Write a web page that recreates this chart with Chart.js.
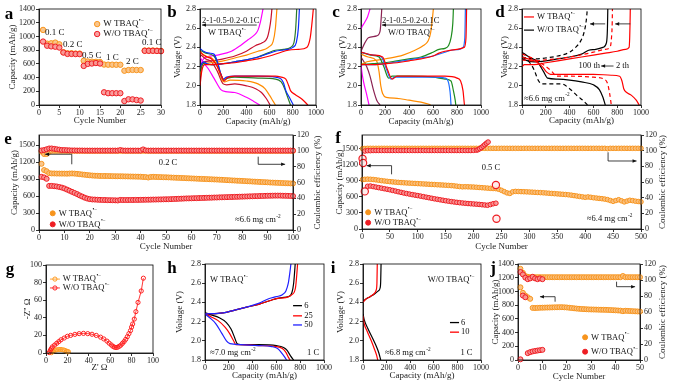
<!DOCTYPE html>
<html><head><meta charset="utf-8">
<script src="https://cdn.jsdelivr.net/npm/chart.js@4.4.1/dist/chart.umd.min.js"></script>
<style>
html,body{margin:0;padding:0;background:#fff;}
#wrap{position:relative;width:675px;height:387px;overflow:hidden;background:#fff;}
#wrap canvas{position:absolute;left:0;top:0;}
</style></head><body><div id="wrap"></div>
<script>
// ================= DATA =================
// (a) rate performance
const aCycles = [1,2,3,4,5,6,7,8,9,10,11,12,13,14,15,16,17,18,19,20,21,22,23,24,25,26,27,28,29,30];
const aCapW  = [1095,895,900,910,885,770,755,755,750,750,645,635,632,630,628,590,588,588,587,587,500,510,512,510,510,795,795,795,793,790];
const aCapWO = [925,865,855,850,838,765,745,745,743,742,570,600,605,612,605,185,172,172,172,172,58,83,82,73,65,790,790,790,788,785];
const aTickX = [0,5,10,15,20,25,30];
const aTickY = [0,200,400,600,800,1000,1200,1400];

// shared voltage-profile ticks
const vTicks = [1.8,2.0,2.2,2.4,2.6,2.8];
const capTicks = [0,200,400,600,800,1000];

// (b) W TBAQ, different rates  [capacity, voltage]
const bMagDis = [[0,2.3],[30,2.24],[70,2.18],[120,2.08],[180,1.96],[220,1.94],[300,1.93],[400,1.88],[460,1.84],[515,1.8]];
const bMagChg = [[0,2.12],[20,2.26],[60,2.3],[150,2.32],[271,2.36],[350,2.42],[414,2.48],[470,2.53],[500,2.58],[520,2.66],[535,2.75],[543,2.8]];
const bDrdDis = [[0,2.33],[50,2.28],[100,2.25],[150,2.15],[200,2.02],[230,2.01],[300,2.02],[400,2.0],[480,1.97],[530,1.93],[570,1.87],[605,1.8]];
const bDrdChg = [[0,2.05],[20,2.24],[100,2.26],[200,2.28],[300,2.31],[400,2.36],[480,2.42],[540,2.45],[580,2.5],[600,2.6],[612,2.7],[620,2.8]];
const bOrgDis = [[0,2.35],[50,2.31],[110,2.28],[150,2.2],[190,2.06],[210,2.04],[260,2.06],[400,2.05],[500,2.02],[560,1.97],[600,1.9],[630,1.84],[650,1.8]];
const bOrgChg = [[0,2.1],[20,2.23],[100,2.24],[200,2.26],[300,2.29],[400,2.32],[500,2.36],[560,2.38],[600,2.41],[630,2.46],[650,2.6],[663,2.8]];
const bGrnDis = [[0,2.37],[50,2.34],[120,2.31],[150,2.24],[180,2.12],[205,2.06],[240,2.08],[300,2.09],[500,2.08],[650,2.07],[700,2.04],[730,1.97],[750,1.9],[780,1.8]];
const bGrnChg = [[0,2.15],[30,2.23],[100,2.22],[200,2.23],[300,2.25],[400,2.27],[500,2.3],[600,2.35],[650,2.37],[720,2.38],[780,2.4],[810,2.45],[825,2.6],[834,2.8]];
const bBluDis = [[0,2.39],[30,2.36],[80,2.34],[120,2.33],[150,2.25],[180,2.12],[200,2.07],[230,2.09],[300,2.1],[500,2.1],[650,2.09],[700,2.07],[720,2.03],[740,1.95],[770,1.88],[805,1.8]];
const bBluChg = [[0,2.2],[30,2.25],[60,2.23],[100,2.22],[200,2.23],[300,2.25],[400,2.27],[500,2.3],[600,2.34],[650,2.36],[700,2.37],[760,2.38],[800,2.4],[830,2.45],[848,2.6],[857,2.8]];
const bRedDis = [[0,2.36],[20,2.33],[60,2.3],[100,2.28],[140,2.22],[180,2.12],[210,2.05],[230,2.08],[300,2.1],[500,2.1],[650,2.1],[700,2.09],[740,2.07],[765,2.0],[780,1.95],[820,1.91],[880,1.86],[930,1.8]];
const bRedChg = [[0,2.0],[15,2.15],[40,2.22],[100,2.22],[200,2.23],[300,2.24],[400,2.26],[500,2.28],[600,2.31],[700,2.35],[760,2.37],[850,2.38],[920,2.4],[950,2.5],[965,2.65],[977,2.8]];

// (c) W/O TBAQ, different rates
const cMagDis = [[0,2.22],[10,2.12],[25,2.02],[45,1.92],[67,1.8]];
const cMagChg = [[0,2.59],[10,2.62],[30,2.66],[55,2.72],[75,2.8]];
const cMarDis = [[0,2.3],[47,2.2],[75,2.1],[103,1.96],[131,1.85],[159,1.8]];
const cMarChg = [[0,2.36],[33,2.45],[61,2.5],[131,2.52],[159,2.57],[168,2.7],[173,2.8]];
const cOrgDis = [[0,2.33],[60,2.3],[130,2.26],[150,2.15],[165,2.0],[180,1.92],[210,1.88],[300,1.87],[400,1.85],[500,1.83],[560,1.81],[580,1.8]];
const cOrgChg = [[0,2.22],[50,2.25],[150,2.27],[250,2.29],[350,2.32],[450,2.37],[520,2.42],[560,2.47],[580,2.55],[595,2.7],[603,2.8]];
const cGrnDis = [[0,2.35],[80,2.32],[150,2.3],[190,2.2],[230,2.08],[260,2.1],[400,2.1],[600,2.09],[700,2.07],[750,2.05],[770,1.95],[785,1.85],[790,1.8]];
const cGrnChg = [[0,2.22],[100,2.23],[200,2.24],[300,2.26],[400,2.28],[500,2.3],[600,2.35],[650,2.38],[700,2.39],[730,2.42],[750,2.5],[765,2.65],[770,2.8]];
const cBluDis = [[0,2.35],[100,2.32],[170,2.3],[210,2.18],[250,2.07],[280,2.09],[400,2.09],[600,2.09],[700,2.08],[730,2.03],[745,1.9],[750,1.8]];
const cBluChg = [[0,2.22],[100,2.22],[200,2.23],[300,2.25],[400,2.27],[500,2.29],[600,2.31],[700,2.35],[750,2.37],[820,2.38],[850,2.4],[865,2.5],[870,2.8]];
const cRedDis = [[0,2.35],[100,2.32],[180,2.3],[220,2.17],[260,2.07],[300,2.1],[500,2.1],[700,2.1],[800,2.08],[830,2.05],[850,1.95],[858,1.85],[862,1.8]];
const cRedChg = [[0,2.22],[100,2.22],[200,2.23],[300,2.24],[400,2.26],[500,2.28],[600,2.31],[650,2.34],[700,2.36],[800,2.38],[860,2.4],[875,2.5],[880,2.8]];

// (d) 2nd vs 100th cycle
const dRed2Dis = [[0,2.3],[50,2.28],[120,2.25],[170,2.2],[210,2.14],[240,2.12],[400,2.12],[600,2.12],[750,2.11],[820,2.1],[840,2.05],[855,1.97],[880,1.93],[920,1.9],[960,1.85],[985,1.8]];
const dRed2Chg = [[0,2.2],[20,2.22],[100,2.22],[200,2.24],[300,2.26],[400,2.28],[500,2.3],[600,2.32],[700,2.34],[800,2.36],[870,2.38],[900,2.4],[905,2.5],[908,2.65],[910,2.8]];
const dRed100Dis = [[0,2.33],[100,2.28],[180,2.22],[250,2.15],[290,2.1],[400,2.1],[600,2.09],[690,2.07],[720,2.02],[735,1.93],[745,1.85],[750,1.8]];
const dRed100Chg = [[0,2.27],[100,2.26],[200,2.27],[400,2.3],[600,2.35],[700,2.38],[740,2.4],[752,2.5],[758,2.65],[760,2.8]];
const dBlk2Dis = [[0,2.35],[60,2.3],[130,2.25],[180,2.15],[215,2.08],[300,2.07],[400,2.06],[500,2.04],[600,2.01],[650,1.96],[680,1.88],[700,1.8]];
const dBlk2Chg = [[0,2.28],[50,2.26],[100,2.25],[200,2.26],[300,2.28],[400,2.3],[500,2.33],[560,2.37],[620,2.38],[680,2.4],[710,2.45],[718,2.6],[721,2.8]];
const dBlk100Dis = [[0,2.3],[60,2.25],[100,2.17],[140,2.05],[170,2.02],[330,2.02],[400,1.97],[470,1.89],[520,1.84],[550,1.8]];
const dBlk100Chg = [[0,2.3],[100,2.28],[200,2.29],[300,2.31],[400,2.35],[450,2.4],[490,2.46],[520,2.55],[540,2.68],[549,2.8]];

// (e) 0.2 C cycling
const eCycles = [1,2,3,4,5,6,7,8,9,10,11,12,13,14,15,16,17,18,19,20,21,22,23,24,25,26,27,28,29,30,31,32,33,34,35,36,37,38,39,40,41,42,43,44,45,46,47,48,49,50,51,52,53,54,55,56,57,58,59,60,61,62,63,64,65,66,67,68,69,70,71,72,73,74,75,76,77,78,79,80,81,82,83,84,85,86,87,88,89,90,91,92,93,94,95,96,97,98,99,100];
const eCapW = [1170,1060,1040,1005,1000,1000,998,998,997,997,
  996,998,1000,997,993,988,982,977,972,967,
  963,960,958,956,955,955,954,953,952,951,
  950,950,949,948,947,946,945,944,943,942,
  938,936,928,938,940,938,936,935,933,932,
  930,928,926,924,922,920,918,916,914,912,
  910,908,906,904,902,900,898,896,894,892,
  890,888,885,882,880,877,875,872,870,868,
  865,862,860,857,855,852,850,847,845,843,
  840,838,836,834,832,830,828,826,824,822];
const eCapWO = [940,930,905,780,780,775,770,760,750,735,
  715,695,675,655,635,612,592,572,556,546,
  540,538,535,533,531,530,528,527,526,525,
  522,532,530,530,530,531,531,532,532,533,
  534,535,536,537,538,539,540,541,542,543,
  544,546,548,550,552,554,556,558,559,560,
  562,563,565,566,568,569,571,572,574,575,
  577,578,580,581,583,584,586,587,589,590,
  592,593,595,596,598,599,601,602,604,605,
  606,607,608,608,608,606,605,604,602,600];
const eCeW = [99,96,96,99,100,100,100,100,100,100,
  100,100,100,100,100,100,100,100,100,100,
  100,100,100,100,100,100,100,100,100,100,
  100,100,100,100,100,100,100,100,100,100,
  100,100,100,100,100,100,100,100,100,100,
  100,100,100,100,100,100,100,100,100,100,
  100,100,100,100,100,100,100,100,100,100,
  100,100,100,100,100,100,100,100,100,100,
  100,100,100,100,100,100,100,100,100,100,
  100,100,100,100,100,100,100,100,100,100];
const eCeWO = [100.5,101,102,103,103,102.5,102,101.5,101,101,
  100.8,100.6,100.5,100.5,100.4,100.4,100.4,100.3,100.3,100.3,
  100.3,100.3,100.3,100.3,100.3,100.3,100.3,100.3,100.3,100.3,
  100.3,101,100.4,100.3,100.3,100.3,100.3,100.3,100.3,100.3,
  101.8,100.5,100.3,100.3,100.3,100.3,100.3,100.3,100.3,100.3,
  100.3,100.3,100.3,100.3,100.3,100.3,100.3,100.3,100.3,100.3,
  100.3,100.3,100.3,100.3,100.3,100.3,100.3,100.3,100.3,100.3,
  100.3,100.3,100.3,100.3,100.3,100.3,100.3,100.3,100.3,100.3,
  100.3,100.3,100.3,100.3,100.3,100.3,100.3,100.3,100.3,100.3,
  100.3,100.3,100.3,100.3,100.3,100.3,100.3,100.3,100.3,100.3];
const eTickX = [0,10,20,30,40,50,60,70,80,90,100];
const capTicksL = [0,300,600,900,1200,1500];
const ceTicks = [0,20,40,60,80,100,120];

// (f) 0.5 C cycling
const fCycW = [1,5,10,15,20,25,30,35,40,45,50,55,60,65,70,75,80,85,90,95,100,105,110,115,120,125,130,135,140,145,150,155,160,165,170,175,180,185,190,195,200,205,210,215,220,225,230,235,240,245,250,255,260,265,270,275,280,285,290,295,300,305,310,315,320,325,330,335,340,345,350,355,360,365,370,375,380,385,390,395,400,405,410,415,420,425,430,435,440,445,450,455,460,465,470,475,480,485,490,495,500];
const fCapW = [920,925,928,926,922,915,908,900,894,888,
  882,877,872,868,864,860,857,854,851,848,
  845,842,839,836,833,830,827,824,821,818,
  815,812,808,803,797,790,785,787,785,783,
  781,777,773,769,765,761,757,754,751,740,
  720,695,672,662,692,700,698,696,694,692,
  689,686,683,680,677,674,670,666,662,658,
  654,650,646,642,637,630,622,614,606,598,
  590,597,590,582,576,570,564,557,547,530,
  515,530,545,525,505,520,535,528,518,512,505];
const fCeW = [102.6,102.8,103,103,103,103,103,103,103,103,
  103,103,103,103,103,103,103,103,103,103,
  103,103,103,103,103,103,103,103,103,103,
  103,103,103,103,103,103,103,103,103,103,
  103,103,103,103,103,103,103,103,103,103,
  103,103,103,103,103,103,103,103,103,103,
  103,103,103,103,103,103,103,103,103,103,
  103,103,103,103,103,103,103,103,103,103,
  103,103,103,103,103,103,103,103,102.6,103,
  103,103,103,103,103,103,103,103,103,103,103];
const fCycWO = [10,15,20,25,30,35,40,45,50,55,60,65,70,75,80,85,90,95,100,105,110,115,120,125,130,135,140,145,150,155,160,165,170,175,180,185,190,195,200,205,210,215,220,225,230,235,240];
const fCapWO = [795,800,790,780,770,760,750,740,730,718,
  706,694,682,670,660,650,640,631,622,612,
  602,592,582,572,562,553,544,535,526,518,
  510,503,496,490,484,479,474,470,466,462,
  458,452,447,442,455,470,480];
const fRingWO = [[1,1310],[2,1230],[5,700],[240,820],[241,190]];
const fCycCeWO = [5,10,15,20,25,30,35,40,45,50,55,60,65,70,75,80,85,90,95,100,105,110,115,120,125,130,135,140,145,150,155,160,165,170,175,180,185,190,195,200,205,208,211,214,217,220,223,226];
const fCeWO = [99.5,100,100,100.2,100.2,100.2,100.2,100.2,100.2,100.2,
  100.2,100.2,100.2,100.2,100.2,100.2,100.2,100.2,100.2,100.2,
  100.2,100.2,100.2,100.2,100.2,100.2,100.2,100.2,100.2,100.2,
  100.2,100.2,100.2,100.2,100.2,100.2,100.2,100.2,100.2,100.4,
  100.6,101.2,102.5,104,105.8,107.6,109.5,111];
const fTickX = [0,50,100,150,200,250,300,350,400,450,500];

// (g) EIS  [Z', -Z'']
const gW = [[5,0.3],[6,1.5],[7,2.5],[8.5,3.2],[10,3.6],[12,4],[14,4],[16,3.6],[17.5,3],[19,2.2],[20,1.6],[21,1.4]];
const gWO = [[3,0.5],[4,3],[5,5],[6,7],[8,9],[10,11],[12,13],[14,15],[17,17],[20,19],[23,20],[27,21.2],[31,22],[35,22.3],[39,22],[43,21.3],[47,20],[51,18],[54,16],[57,13.5],[59,11.2],[61,9.2],[62.5,7.6],[64,6.6],[65.5,6.2],[67,6.6],[68.5,7.6],[70,9],[71.5,11],[73,13],[74.5,15.5],[76,18.5],[77.5,22],[79,25.5],[80,29.5],[81,33],[82.5,38.5],[84,47],[86,57.5],[89,70.5],[91,85]];
const gTicks = [0,20,40,60,80,100];

// (h) W TBAQ at 1 C: cycles 6, 25, 50
const hBlkChg = [[0,2.29],[50,2.28],[150,2.29],[250,2.32],[350,2.35],[450,2.38],[550,2.42],[600,2.44],[650,2.45],[700,2.46],[730,2.5],[745,2.6],[752,2.7],[758,2.8]];
const hRedChg = [[0,2.28],[150,2.29],[250,2.32],[350,2.35],[450,2.38],[550,2.42],[600,2.44],[680,2.45],[730,2.48],[760,2.55],[772,2.7],[778,2.8]];
const hBluChg = [[0,2.28],[150,2.29],[250,2.32],[350,2.35],[450,2.39],[540,2.44],[600,2.46],[650,2.48],[680,2.52],[700,2.6],[712,2.7],[722,2.8]];
const hBlkDis = [[0,2.29],[50,2.27],[120,2.24],[180,2.19],[220,2.12],[250,2.03],[270,1.97],[300,1.96],[450,1.96],[600,1.95],[660,1.93],[690,1.9],[720,1.84],[745,1.8]];
const hRedDis = [[0,2.28],[50,2.25],[110,2.21],[170,2.14],[210,2.07],[240,2.0],[260,1.96],[300,1.96],[450,1.95],[600,1.94],[650,1.92],[680,1.88],[700,1.83],[715,1.8]];
const hBluDis = [[0,2.28],[40,2.24],[90,2.18],[140,2.08],[180,2.0],[210,1.97],[300,1.96],[450,1.95],[560,1.94],[610,1.92],[640,1.88],[670,1.83],[685,1.8]];

// (i) W/O TBAQ at 1 C: cycles 6, 10
const iBlkChg = [[0,2.41],[20,2.43],[60,2.46],[100,2.49],[130,2.52],[145,2.55],[150,2.62],[153,2.8]];
const iRedChg = [[0,2.4],[20,2.43],[60,2.46],[100,2.5],[112,2.53],[118,2.6],[121,2.8]];
const iBlkDis = [[0,2.28],[10,2.22],[40,2.13],[80,2.03],[110,1.95],[135,1.87],[150,1.8]];
const iRedDis = [[0,2.26],[10,2.18],[35,2.1],[70,2.0],[95,1.92],[115,1.85],[125,1.8]];

// (j) 1 C cycling
const jCycW = [1,2,3,4,5,6,7,8,9,10,11,12,13,14,15,16,17,18,19,20,21,22,23,24,25,26,27,28,29,30,31,32,33,34,35,36,37,38,39,40,41,42,43,44,45,46,47,48,49,50];
const jCapW = [1060,980,940,915,892,760,758,760,762,763,
  764,765,766,767,768,769,770,770,768,766,
  762,758,754,750,747,744,742,740,738,737,
  736,735,734,733,732,731,730,728,726,724,
  722,720,712,718,716,714,712,710,708,706];
const jCeW = [114,109,105,104,103.5,103.5,103.5,103.5,103.5,103.5,
  103.5,103.5,103.5,103.5,103.5,103.5,103.5,103.5,103.5,103.5,
  103.5,103.5,103.5,103.5,103.5,103.5,103.5,103.5,103.5,103.5,
  103.5,103.5,103.5,103.5,103.5,103.5,103.5,103.5,103.5,103.5,
  103.5,103.5,105,103.5,103.5,103.5,103.5,103.5,103.5,103.5];
const jCycWO = [1,2,3,4,5,6,7,8,9,10];
const jCapWO = [10,940,915,100,115,125,132,138,143,148];
const jCeWO = [110,107,103,101,102,104,102,101,102,101];
const jTickX = [0,10,20,30,40,50];

// ================= RENDERING =================
const FONT = "'Liberation Serif','Times New Roman',serif";
const TICK = 8, TITLE = 9;
const SUP = '\u2022\u2212';
const OR_B = '#F7941D', OR_F = 'rgba(250,192,128,0.9)';
const RD_B = '#EE1D23', RD_F = 'rgba(248,150,150,0.9)';
Chart.defaults.font.family = FONT;

const PT = arr => arr.map(p => ({x: p[0], y: p[1]}));
const XY = (xs, ys) => xs.map((x, i) => ({x: x, y: ys[i]}));

function xAxis(min, max, ticks, title, h, fmt) {
  return {
    type: 'linear', position: 'bottom', min: min, max: max,
    afterBuildTicks: s => { s.ticks = ticks.map(v => ({value: v})); },
    afterFit: s => { s.height = h; s.paddingLeft = 0; s.paddingRight = 0; },
    grid: {drawOnChartArea: false, drawTicks: true, tickLength: 3, color: '#000', lineWidth: 0.8},
    border: {display: true, color: '#000', width: 0.8},
    ticks: {autoSkip: false, maxRotation: 0, padding: 0, color: '#222', font: {family: FONT, size: TICK},
      callback: fmt || (v => String(v))},
    title: {display: true, text: title, color: '#222', padding: 0, font: {family: FONT, size: TITLE}}
  };
}
function yAxis(min, max, ticks, title, w, fmt, right) {
  return {
    type: 'linear', position: right ? 'right' : 'left', min: min, max: max,
    afterBuildTicks: s => { s.ticks = ticks.map(v => ({value: v})); },
    afterFit: s => { s.width = w; s.paddingTop = 0; s.paddingBottom = 0; },
    grid: {drawOnChartArea: false, drawTicks: true, tickLength: 3, color: '#000', lineWidth: 0.8},
    border: {display: true, color: '#000', width: 0.8},
    ticks: {autoSkip: false, padding: 1, color: '#222', font: {family: FONT, size: TICK},
      callback: fmt || (v => String(v))},
    title: {display: !right, text: title, color: '#222', padding: 0, font: {family: FONT, size: TITLE}}
  };
}
const f1 = v => v.toFixed(1);

function mk(data, border, fill, r, extra) {
  return Object.assign({data: data, showLine: false, pointRadius: r, pointBorderWidth: 1,
    pointBorderColor: border, pointBackgroundColor: fill, borderColor: border, backgroundColor: fill, clip: false}, extra || {});
}
function ln(data, color, extra) {
  return Object.assign({data: data, showLine: true, pointRadius: 0, borderColor: color, borderWidth: 1.2,
    cubicInterpolationMode: 'monotone', fill: false}, extra || {});
}

const DRAW = {};
Chart.register({
  id: 'frameAnn',
  afterDraw(chart) {
    const ctx = chart.ctx, a = chart.chartArea;
    ctx.save();
    ctx.strokeStyle = '#000'; ctx.lineWidth = 0.8;
    ctx.strokeRect(a.left, a.top, a.right - a.left, a.bottom - a.top);
    ctx.restore();
    const f = DRAW[chart.canvas.id];
    if (f) { ctx.save(); f(ctx, chart); ctx.restore(); }
  }
});

function make(id, box, datasets, scales, draw) {
  DRAW[id] = draw;
  const c = document.createElement('canvas');
  c.id = id; c.width = 675; c.height = 387;
  document.getElementById('wrap').appendChild(c);
  const pad = {left: box.l - box.lw, top: box.t, right: 675 - box.r - (box.rw || 0), bottom: 387 - box.b - box.bh};
  return new Chart(c, {
    type: 'scatter',
    data: {datasets: datasets},
    options: {
      responsive: false, animation: false, devicePixelRatio: 1, events: [],
      layout: {padding: pad},
      plugins: {legend: {display: false}, tooltip: {enabled: false}},
      scales: scales
    }
  });
}

// drawing helpers for annotations
function PX(ch, x, y, ay) { return [ch.scales.x.getPixelForValue(x), ch.scales[ay || 'y'].getPixelForValue(y)]; }
function T(ctx, s, x, y, o) {
  o = o || {}; const sz = o.size || 8.5;
  ctx.font = (o.bold ? 'bold ' : '') + sz + 'px ' + FONT;
  ctx.fillStyle = o.color || '#111'; ctx.textAlign = o.align || 'left'; ctx.textBaseline = o.base || 'middle';
  ctx.fillText(s, x, y);
  return ctx.measureText(s).width;
}
function TS(ctx, s, sup, x, y, o) {
  o = o || {}; const sz = o.size || 8.5;
  const w = T(ctx, s, x, y, Object.assign({}, o, {align: 'left'}));
  T(ctx, sup, x + w + 0.4, y - sz * 0.38, Object.assign({}, o, {size: sz * 0.62, align: 'left'}));
}
function AR(ctx, p1, p2) {
  ctx.strokeStyle = '#111'; ctx.fillStyle = '#111'; ctx.lineWidth = 0.8;
  ctx.beginPath(); ctx.moveTo(p1[0], p1[1]); ctx.lineTo(p2[0], p2[1]); ctx.stroke();
  const a = Math.atan2(p2[1] - p1[1], p2[0] - p1[0]), L = 4, W = 1.8;
  ctx.beginPath(); ctx.moveTo(p2[0], p2[1]);
  ctx.lineTo(p2[0] - L * Math.cos(a) + W * Math.sin(a), p2[1] - L * Math.sin(a) - W * Math.cos(a));
  ctx.lineTo(p2[0] - L * Math.cos(a) - W * Math.sin(a), p2[1] - L * Math.sin(a) + W * Math.cos(a));
  ctx.closePath(); ctx.fill();
}
function SEG(ctx, p1, p2, color, w, dash) {
  ctx.save(); ctx.strokeStyle = color || '#111'; ctx.lineWidth = w || 0.8; ctx.setLineDash(dash || []);
  ctx.beginPath(); ctx.moveTo(p1[0], p1[1]); ctx.lineTo(p2[0], p2[1]); ctx.stroke(); ctx.restore();
}
function DOT(ctx, p, r, stroke, fill) {
  ctx.beginPath(); ctx.arc(p[0], p[1], r, 0, Math.PI * 2);
  if (fill) { ctx.fillStyle = fill; ctx.fill(); }
  ctx.strokeStyle = stroke; ctx.lineWidth = 1; ctx.stroke();
}
function LET(ctx, s, x, y) { T(ctx, s, x, y, {size: 17, bold: true, align: 'center', color: '#000'}); }
function RT(ctx, ch, s, rw) {
  const a = ch.chartArea;
  ctx.save(); ctx.translate(a.right + rw - 5.4, (a.top + a.bottom) / 2); ctx.rotate(-Math.PI / 2);
  T(ctx, s, 0, 0, {size: TITLE, align: 'center', color: '#222'}); ctx.restore();
}

// ---------- (a) ----------
make('pa', {l: 39, t: 9, r: 161, b: 105, lw: 31.4, bh: 21.4},
  [mk(XY(aCycles, aCapWO), RD_B, RD_F, 2.7), mk(XY(aCycles, aCapW), OR_B, OR_F, 2.7)],
  {x: xAxis(0, 30, aTickX, 'Cycle Number', 21.4), y: yAxis(0, 1400, aTickY, 'Capacity (mAh/g)', 31.4)},
  (ctx, ch) => {
    LET(ctx, 'a', 9, 15);
    [['0.1 C', 1.5, 1050], ['0.2 C', 5.9, 875], ['0.5 C', 10.6, 715], ['1 C', 16.5, 685], ['2 C', 21.4, 627], ['0.1 C', 25.3, 905]]
      .forEach(l => { const p = PX(ch, l[1], l[2]); T(ctx, l[0], p[0], p[1], {size: 9}); });
    let p = PX(ch, 14.3, 1180); DOT(ctx, p, 2.7, OR_B, OR_F); TS(ctx, 'W TBAQ', SUP, p[0] + 6, p[1], {size: 9});
    p = PX(ch, 14.3, 1035); DOT(ctx, p, 2.7, RD_B, RD_F); TS(ctx, 'W/O TBAQ', SUP, p[0] + 6, p[1], {size: 9});
  });

// ---------- (b) ----------
make('pb', {l: 200, t: 9, r: 316, b: 105, lw: 27.4, bh: 22.4},
  [ln(PT(bRedDis), '#FF0000'), ln(PT(bRedChg), '#FF0000'),
   ln(PT(bBluDis), '#0A2BFF'), ln(PT(bBluChg), '#0A2BFF'),
   ln(PT(bGrnDis), '#2A7A2A'), ln(PT(bGrnChg), '#2A7A2A'),
   ln(PT(bOrgDis), '#FF8C00'), ln(PT(bOrgChg), '#FF8C00'),
   ln(PT(bDrdDis), '#C8102E'), ln(PT(bDrdChg), '#C8102E'),
   ln(PT(bMagDis), '#FF00FF'), ln(PT(bMagChg), '#FF00FF')],
  {x: xAxis(0, 1000, capTicks, 'Capacity (mAh/g)', 22.4), y: yAxis(1.8, 2.8, vTicks, 'Voltage (V)', 27.4, f1)},
  (ctx, ch) => {
    LET(ctx, 'b', 172, 13);
    let p = PX(ch, 17, 2.675); T(ctx, '2-1-0.5-0.2-0.1C', p[0], p[1]);
    AR(ctx, PX(ch, 489, 2.633), PX(ch, 17, 2.633));
    p = PX(ch, 69, 2.55); TS(ctx, 'W TBAQ', SUP, p[0], p[1]);
  });

// ---------- (c) ----------
make('pc', {l: 361, t: 9, r: 481, b: 105, lw: 23.4, bh: 22.4},
  [ln(PT(cRedDis), '#FF0000'), ln(PT(cRedChg), '#FF0000'),
   ln(PT(cBluDis), '#1E6FFF'), ln(PT(cBluChg), '#1E6FFF'),
   ln(PT(cGrnDis), '#1E8C1E'), ln(PT(cGrnChg), '#1E8C1E'),
   ln(PT(cOrgDis), '#FF8C00'), ln(PT(cOrgChg), '#FF8C00'),
   ln(PT(cMarDis), '#8B2252'), ln(PT(cMarChg), '#8B2252'),
   ln(PT(cMagDis), '#FF00FF'), ln(PT(cMagChg), '#FF00FF')],
  {x: xAxis(0, 1000, capTicks, 'Capacity (mAh/g)', 22.4), y: yAxis(1.8, 2.8, vTicks, 'Voltage (V)', 23.4, f1)},
  (ctx, ch) => {
    LET(ctx, 'c', 336, 13);
    let p = PX(ch, 175, 2.675); T(ctx, '2-1-0.5-0.2-0.1C', p[0], p[1]);
    AR(ctx, PX(ch, 600, 2.633), PX(ch, 175, 2.633));
    p = PX(ch, 225, 2.55); TS(ctx, 'W/O TBAQ', SUP, p[0], p[1]);
  });

// ---------- (d) ----------
make('pd', {l: 522, t: 9, r: 641, b: 105, lw: 22.4, bh: 21.4},
  [ln(PT(dRed2Dis), '#FF0000'), ln(PT(dRed2Chg), '#FF0000'),
   ln(PT(dRed100Dis), '#FF0000', {borderDash: [4, 3]}), ln(PT(dRed100Chg), '#FF0000', {borderDash: [4, 3]}),
   ln(PT(dBlk2Dis), '#000000'), ln(PT(dBlk2Chg), '#000000'),
   ln(PT(dBlk100Dis), '#000000', {borderDash: [4, 3]}), ln(PT(dBlk100Chg), '#000000', {borderDash: [4, 3]})],
  {x: xAxis(0, 1000, capTicks, 'Capacity (mAh/g)', 21.4), y: yAxis(1.8, 2.8, vTicks, 'Voltage (V)', 22.4, f1)},
  (ctx, ch) => {
    LET(ctx, 'd', 500, 13);
    SEG(ctx, PX(ch, 17, 2.717), PX(ch, 101, 2.717), '#FF0000', 1.2);
    let p = PX(ch, 126, 2.717); TS(ctx, 'W TBAQ', SUP, p[0], p[1]);
    SEG(ctx, PX(ch, 17, 2.58), PX(ch, 101, 2.58), '#000000', 1.2);
    p = PX(ch, 126, 2.58); TS(ctx, 'W/O TBAQ', SUP, p[0], p[1]);
    AR(ctx, PX(ch, 699, 2.645), PX(ch, 572, 2.645));
    AR(ctx, PX(ch, 910, 2.645), PX(ch, 783, 2.645));
    p = PX(ch, 656, 2.206); T(ctx, '100 th', p[0], p[1], {align: 'right'});
    AR(ctx, PX(ch, 769, 2.206), PX(ch, 665, 2.206));
    p = PX(ch, 789, 2.206); T(ctx, '2 th', p[0], p[1]);
    p = PX(ch, 17, 1.87); TS(ctx, '\u22486.6 mg cm', '-2', p[0], p[1]);
  });

// ---------- (e) ----------
make('pe', {l: 39, t: 135, r: 293, b: 230, lw: 29.4, bh: 22.4, rw: 30.4},
  [mk(XY(eCycles, eCeWO), RD_B, RD_F, 2.5, {yAxisID: 'y2'}), mk(XY(eCycles, eCapWO), RD_B, RD_F, 2.5),
   mk(XY(eCycles, eCeW), OR_B, OR_F, 2.5, {yAxisID: 'y2'}), mk(XY(eCycles, eCapW), OR_B, OR_F, 2.5)],
  {x: xAxis(0, 100, eTickX, 'Cycle Number', 22.4),
   y: yAxis(0, 1680, capTicksL, 'Capacity (mAh/g)', 29.4),
   y2: yAxis(0, 120, ceTicks, '', 30.4, null, true)},
  (ctx, ch) => {
    LET(ctx, 'e', 8, 140);
    RT(ctx, ch, 'Coulombic efficiency (%)', 30.4);
    let p = PX(ch, 50.8, 1185); T(ctx, '0.2 C', p[0], p[1], {align: 'center'});
    SEG(ctx, PX(ch, 12.9, 1162), PX(ch, 12.9, 1340)); AR(ctx, PX(ch, 12.9, 1340), PX(ch, 2.4, 1340));
    SEG(ctx, PX(ch, 86.3, 1297), PX(ch, 86.3, 1162)); AR(ctx, PX(ch, 86.3, 1162), PX(ch, 96.9, 1162));
    p = PX(ch, 5.4, 295); DOT(ctx, p, 2.5, OR_B, OR_B); TS(ctx, 'W TBAQ', SUP, p[0] + 6, p[1]);
    p = PX(ch, 5.4, 100); DOT(ctx, p, 2.5, RD_B, RD_B); TS(ctx, 'W/O TBAQ', SUP, p[0] + 6, p[1]);
    p = PX(ch, 77.2, 177); TS(ctx, '\u22486.6 mg cm', '-2', p[0], p[1]);
  });

// ---------- (f) ----------
make('pf', {l: 362, t: 135, r: 641, b: 229, lw: 27.4, bh: 23.4, rw: 27.4},
  [mk(XY(fCycCeWO, fCeWO), RD_B, RD_F, 2.3, {yAxisID: 'y2'}),
   mk(PT(fRingWO), RD_B, 'rgba(255,235,235,0.9)', 3.6, {pointBorderWidth: 1.2}),
   mk(XY(fCycWO, fCapWO), RD_B, RD_F, 2.3),
   mk(XY(fCycW, fCeW), OR_B, OR_F, 2.3, {yAxisID: 'y2'}), mk(XY(fCycW, fCapW), OR_B, OR_F, 2.3)],
  {x: xAxis(0, 500, fTickX, 'Cycle Number', 23.4),
   y: yAxis(0, 1750, capTicksL, 'Capacity (mAh/g)', 27.4),
   y2: yAxis(0, 120, ceTicks, '', 27.4, null, true)},
  (ctx, ch) => {
    LET(ctx, 'f', 338, 139);
    RT(ctx, ch, 'Coulombic efficiency (%)', 27.4);
    let p = PX(ch, 231, 1141); T(ctx, '0.5 C', p[0], p[1], {align: 'center'});
    SEG(ctx, PX(ch, 53, 1018), PX(ch, 53, 1179)); AR(ctx, PX(ch, 53, 1179), PX(ch, 8.4, 1179));
    SEG(ctx, PX(ch, 441, 1428), PX(ch, 441, 1266)); AR(ctx, PX(ch, 441, 1266), PX(ch, 492, 1266));
    p = PX(ch, 11, 311); DOT(ctx, p, 2.5, OR_B, OR_B); TS(ctx, 'W TBAQ', SUP, p[0] + 6, p[1]);
    p = PX(ch, 11, 118); DOT(ctx, p, 2.5, RD_B, RD_B); TS(ctx, 'W/O TBAQ', SUP, p[0] + 6, p[1]);
    p = PX(ch, 403, 186); TS(ctx, '\u22486.4 mg cm', '-2', p[0], p[1]);
  });

// ---------- (g) ----------
make('pg', {l: 46, t: 265, r: 153, b: 353, lw: 23.4, bh: 20.4},
  [Object.assign(mk(PT(gWO), '#FF2020', 'rgba(255,255,255,0)', 2.1), {showLine: true, borderWidth: 0.9, tension: 0}),
   Object.assign(mk(PT(gW), '#FF9A1F', 'rgba(255,255,255,0)', 2.1), {showLine: true, borderWidth: 0.9, tension: 0})],
  {x: xAxis(0, 100, gTicks, "Z' \u03A9", 20.4), y: yAxis(0, 100, gTicks, "-Z'' \u03A9", 23.4)},
  (ctx, ch) => {
    LET(ctx, 'g', 10, 270);
    let a = PX(ch, 3.7, 84), b = PX(ch, 13, 84);
    SEG(ctx, a, b, '#FF9A1F', 0.9); DOT(ctx, [(a[0] + b[0]) / 2, a[1]], 2.1, '#FF9A1F', null);
    let p = PX(ch, 15.6, 84); TS(ctx, 'W TBAQ', SUP, p[0], p[1]);
    a = PX(ch, 3.7, 73.9); b = PX(ch, 13, 73.9);
    SEG(ctx, a, b, '#FF2020', 0.9); DOT(ctx, [(a[0] + b[0]) / 2, a[1]], 2.1, '#FF2020', null);
    p = PX(ch, 15.6, 73.9); TS(ctx, 'W/O TBAQ', SUP, p[0], p[1]);
  });

// ---------- (h) ----------
make('ph', {l: 205, t: 264, r: 324, b: 360, lw: 30.4, bh: 21.4},
  [ln(PT(hBluChg), '#2020FF'), ln(PT(hBluDis), '#2020FF'),
   ln(PT(hRedChg), '#FF0000'), ln(PT(hRedDis), '#FF0000'),
   ln(PT(hBlkChg), '#000000'), ln(PT(hBlkDis), '#000000')],
  {x: xAxis(0, 1000, capTicks, 'Capacity (mAh/g)', 21.4), y: yAxis(1.8, 2.8, vTicks, 'Voltage (V)', 30.4, f1)},
  (ctx, ch) => {
    LET(ctx, 'h', 172, 269);
    let p = PX(ch, 42, 2.633); TS(ctx, 'W TBAQ', SUP, p[0], p[1]);
    [['6', 2.366, '#000000'], ['25', 2.26, '#FF0000'], ['50', 2.165, '#2020FF']].forEach(l => {
      SEG(ctx, PX(ch, 740, l[1]), PX(ch, 815, l[1]), l[2], 1.3);
      const q = PX(ch, 834, l[1]); T(ctx, l[0], q[0], q[1]);
    });
    p = PX(ch, 42, 1.876); TS(ctx, '\u22487.0 mg cm', '-2', p[0], p[1]);
    p = PX(ch, 908, 1.876); T(ctx, '1 C', p[0], p[1], {align: 'center'});
  });

// ---------- (i) ----------
make('pi', {l: 363, t: 264, r: 481, b: 360, lw: 27.4, bh: 21.4},
  [ln(PT(iRedChg), '#FF0000'), ln(PT(iRedDis), '#FF0000'),
   ln(PT(iBlkChg), '#000000'), ln(PT(iBlkDis), '#000000')],
  {x: xAxis(0, 1000, capTicks, 'Capacity (mAh/g)', 21.4), y: yAxis(1.8, 2.8, vTicks, 'Voltage (V)', 27.4, f1)},
  (ctx, ch) => {
    LET(ctx, 'i', 333, 269);
    let p = PX(ch, 548, 2.64); TS(ctx, 'W/O TBAQ', SUP, p[0], p[1]);
    [['6', 2.19, '#000000'], ['10', 2.09, '#FF0000']].forEach(l => {
      SEG(ctx, PX(ch, 737, l[1]), PX(ch, 814, l[1]), l[2], 1.3);
      const q = PX(ch, 830, l[1]); T(ctx, l[0], q[0], q[1]);
    });
    p = PX(ch, 186, 1.876); TS(ctx, '\u22486.8 mg cm', '-2', p[0], p[1]);
    p = PX(ch, 877, 1.876); T(ctx, '1 C', p[0], p[1], {align: 'center'});
  });

// ---------- (j) ----------
make('pj', {l: 518, t: 264, r: 640, b: 360, lw: 27.4, bh: 22.4, rw: 28.4},
  [mk(XY(jCycWO, jCeWO), RD_B, RD_F, 2.5, {yAxisID: 'y2'}), mk(XY(jCycWO, jCapWO), RD_B, RD_F, 2.5),
   mk(XY(jCycW, jCeW), OR_B, OR_F, 2.5, {yAxisID: 'y2'}), mk(XY(jCycW, jCapW), OR_B, OR_F, 2.5)],
  {x: xAxis(0, 50, jTickX, 'Cycle Number', 22.4),
   y: yAxis(0, 1400, aTickY, 'Capacity (mAh/g)', 27.4),
   y2: yAxis(0, 120, ceTicks, '', 28.4, null, true)},
  (ctx, ch) => {
    LET(ctx, 'j', 493, 269);
    RT(ctx, ch, 'Coulombic efficiency (%)', 28.4);
    SEG(ctx, PX(ch, 15.2, 850), PX(ch, 15.2, 923)); AR(ctx, PX(ch, 15.2, 923), PX(ch, 9, 923));
    SEG(ctx, PX(ch, 40.4, 1142), PX(ch, 40.4, 1069)); AR(ctx, PX(ch, 40.4, 1069), PX(ch, 48, 1069));
    let p = PX(ch, 27.5, 331); DOT(ctx, p, 2.5, OR_B, OR_B); TS(ctx, 'W TBAQ', SUP, p[0] + 6, p[1]);
    p = PX(ch, 27.5, 121); DOT(ctx, p, 2.5, RD_B, RD_B); TS(ctx, 'W/O TBAQ', SUP, p[0] + 6, p[1]);
  });
</script></body></html>
